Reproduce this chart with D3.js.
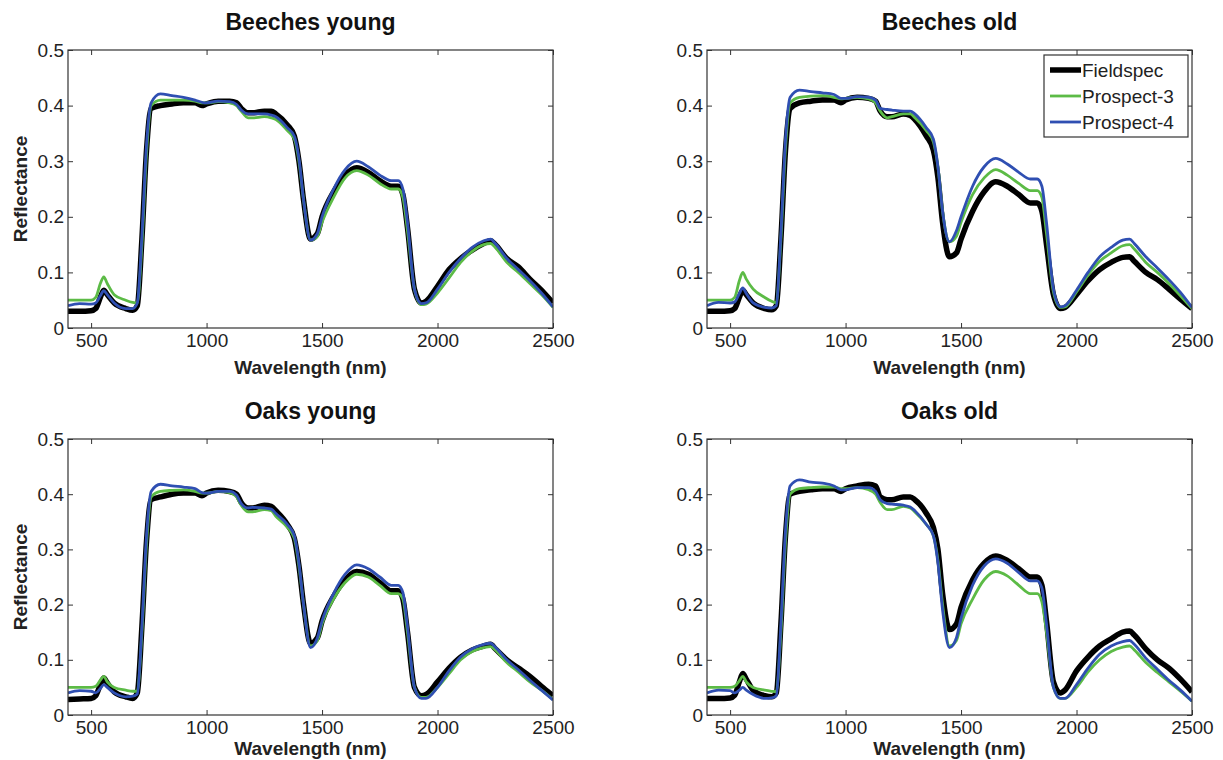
<!DOCTYPE html>
<html>
<head>
<meta charset="utf-8">
<script src="https://cdn.jsdelivr.net/npm/d3@7"></script>
<style>
  body { margin: 0; background: #fff; }
  svg { font-family: "Liberation Sans", Arial, sans-serif; }
  .tick text { fill: #222; font-size: 19px; }
  .tick line { stroke: #333; }
</style>
</head>
<body>
<div id="chart"></div>
<script>
// wavelength grid (nm) shared by every spectrum
const wavelengths = [400,450,500,520,540,555,570,600,
  650,680,700,720,740,760,
  800,850,900,950,980,1000,
  1050,1100,1130,1150,1180,1200,
  1250,1280,1300,1350,1380,1400,
  1420,1450,1480,1500,1550,1600,
  1650,1700,1750,1800,1830,1850,
  1870,1900,1930,1950,2000,2050,
  2100,2150,2200,2230,2250,2300,
  2350,2400,2450,2500];

const seriesNames = ["Fieldspec", "Prospect-3", "Prospect-4"];
const panelTitles = ["Beeches young", "Beeches old", "Oaks young", "Oaks old"];
const xTicks = [500, 1000, 1500, 2000, 2500];
const xTickLabels = ["500", "1000", "1500", "2000", "2500"];
const yTicks = [0, 0.1, 0.2, 0.3, 0.4, 0.5];
const yTickLabels = ["0", "0.1", "0.2", "0.3", "0.4", "0.5"];

// Beeches young
const beechYoungField = [0.030,0.030,0.031,0.035,0.055,0.068,0.060,0.045,
  0.035,0.032,0.040,0.160,0.320,0.395,
  0.400,0.403,0.405,0.405,0.400,0.403,
  0.408,0.408,0.405,0.395,0.387,0.387,
  0.390,0.390,0.385,0.365,0.345,0.300,
  0.230,0.160,0.170,0.200,0.245,0.275,
  0.288,0.280,0.265,0.255,0.255,0.240,
  0.180,0.070,0.045,0.048,0.075,0.105,
  0.125,0.140,0.152,0.157,0.150,0.125,
  0.110,0.088,0.068,0.045];
const beechYoungP3 = [0.050,0.050,0.050,0.055,0.080,0.092,0.080,0.060,
  0.050,0.046,0.045,0.150,0.315,0.400,
  0.410,0.410,0.410,0.408,0.405,0.405,
  0.407,0.405,0.400,0.390,0.378,0.378,
  0.380,0.378,0.375,0.355,0.340,0.300,
  0.230,0.158,0.165,0.190,0.235,0.270,
  0.283,0.275,0.260,0.250,0.250,0.235,
  0.175,0.070,0.042,0.043,0.063,0.090,
  0.118,0.138,0.150,0.152,0.145,0.118,
  0.100,0.080,0.060,0.037];
const beechYoungP4 = [0.040,0.044,0.043,0.045,0.058,0.067,0.060,0.045,
  0.035,0.035,0.045,0.165,0.330,0.405,
  0.421,0.418,0.415,0.410,0.406,0.405,
  0.408,0.407,0.402,0.392,0.385,0.385,
  0.385,0.383,0.380,0.360,0.345,0.305,
  0.230,0.158,0.170,0.200,0.250,0.285,
  0.300,0.290,0.275,0.265,0.265,0.250,
  0.190,0.070,0.044,0.045,0.070,0.100,
  0.125,0.145,0.157,0.160,0.152,0.125,
  0.105,0.085,0.063,0.038];

// Beeches old
const beechOldField = [0.030,0.030,0.031,0.035,0.055,0.068,0.060,0.045,
  0.035,0.033,0.040,0.160,0.320,0.395,
  0.405,0.408,0.410,0.410,0.405,0.410,
  0.415,0.413,0.408,0.390,0.380,0.380,
  0.385,0.382,0.375,0.345,0.320,0.270,
  0.190,0.128,0.135,0.160,0.210,0.245,
  0.263,0.255,0.240,0.225,0.225,0.210,
  0.150,0.060,0.035,0.037,0.060,0.085,
  0.105,0.118,0.127,0.128,0.120,0.100,
  0.087,0.070,0.052,0.035];
const beechOldP3 = [0.050,0.050,0.050,0.055,0.085,0.100,0.088,0.070,
  0.055,0.048,0.045,0.160,0.325,0.405,
  0.415,0.417,0.418,0.415,0.412,0.413,
  0.415,0.412,0.405,0.390,0.378,0.380,
  0.385,0.385,0.378,0.355,0.335,0.290,
  0.210,0.155,0.165,0.190,0.240,0.270,
  0.285,0.275,0.260,0.247,0.247,0.235,
  0.170,0.065,0.037,0.038,0.065,0.095,
  0.120,0.135,0.148,0.150,0.142,0.118,
  0.100,0.080,0.058,0.035];
const beechOldP4 = [0.040,0.046,0.045,0.047,0.062,0.072,0.062,0.045,
  0.037,0.036,0.040,0.170,0.340,0.415,
  0.428,0.425,0.423,0.420,0.413,0.413,
  0.416,0.415,0.410,0.395,0.393,0.392,
  0.390,0.390,0.385,0.360,0.340,0.290,
  0.210,0.155,0.175,0.200,0.255,0.290,
  0.305,0.295,0.280,0.268,0.268,0.255,
  0.190,0.070,0.038,0.040,0.068,0.100,
  0.128,0.145,0.158,0.160,0.152,0.128,
  0.108,0.087,0.064,0.037];

// Oaks young
const oakYoungField = [0.028,0.029,0.030,0.035,0.055,0.067,0.058,0.042,
  0.033,0.030,0.040,0.160,0.315,0.390,
  0.395,0.400,0.402,0.402,0.397,0.402,
  0.407,0.405,0.400,0.385,0.375,0.375,
  0.380,0.378,0.370,0.345,0.320,0.270,
  0.200,0.130,0.140,0.170,0.215,0.245,
  0.260,0.255,0.240,0.225,0.225,0.210,
  0.150,0.050,0.035,0.037,0.060,0.085,
  0.105,0.118,0.125,0.128,0.120,0.100,
  0.085,0.070,0.052,0.035];
const oakYoungP3 = [0.050,0.050,0.050,0.052,0.063,0.070,0.060,0.050,
  0.045,0.043,0.043,0.150,0.310,0.395,
  0.405,0.407,0.408,0.405,0.402,0.402,
  0.405,0.403,0.395,0.380,0.368,0.368,
  0.372,0.370,0.360,0.340,0.320,0.270,
  0.200,0.125,0.135,0.165,0.210,0.240,
  0.255,0.250,0.235,0.220,0.220,0.210,
  0.150,0.050,0.032,0.032,0.050,0.075,
  0.100,0.115,0.122,0.124,0.118,0.095,
  0.078,0.060,0.045,0.028];
const oakYoungP4 = [0.040,0.044,0.043,0.040,0.048,0.055,0.050,0.040,
  0.033,0.034,0.038,0.160,0.325,0.405,
  0.418,0.415,0.413,0.410,0.403,0.402,
  0.405,0.405,0.398,0.383,0.375,0.376,
  0.375,0.373,0.365,0.345,0.325,0.275,
  0.200,0.122,0.140,0.170,0.220,0.255,
  0.272,0.265,0.250,0.235,0.235,0.222,
  0.160,0.050,0.030,0.030,0.050,0.080,
  0.105,0.120,0.128,0.130,0.123,0.100,
  0.082,0.063,0.045,0.027];

// Oaks old
const oakOldField = [0.030,0.030,0.031,0.036,0.060,0.075,0.065,0.045,
  0.035,0.033,0.040,0.165,0.325,0.400,
  0.405,0.408,0.410,0.410,0.405,0.410,
  0.415,0.418,0.415,0.395,0.390,0.390,
  0.395,0.395,0.390,0.365,0.340,0.300,
  0.220,0.155,0.165,0.195,0.245,0.275,
  0.288,0.280,0.265,0.250,0.250,0.235,
  0.170,0.060,0.040,0.045,0.080,0.105,
  0.125,0.138,0.150,0.152,0.145,0.120,
  0.100,0.085,0.065,0.042];
const oakOldP3 = [0.050,0.050,0.050,0.052,0.062,0.070,0.060,0.050,
  0.045,0.043,0.042,0.150,0.315,0.400,
  0.410,0.412,0.413,0.413,0.410,0.410,
  0.412,0.408,0.400,0.385,0.372,0.372,
  0.378,0.375,0.368,0.345,0.325,0.280,
  0.200,0.125,0.135,0.165,0.210,0.245,
  0.260,0.252,0.235,0.220,0.220,0.205,
  0.150,0.050,0.030,0.030,0.050,0.078,
  0.100,0.115,0.123,0.125,0.118,0.095,
  0.077,0.060,0.043,0.025];
const oakOldP4 = [0.040,0.045,0.044,0.040,0.045,0.050,0.045,0.037,
  0.030,0.031,0.035,0.165,0.335,0.415,
  0.426,0.422,0.420,0.415,0.408,0.408,
  0.412,0.412,0.405,0.390,0.383,0.382,
  0.380,0.377,0.370,0.345,0.325,0.275,
  0.190,0.122,0.140,0.175,0.235,0.270,
  0.283,0.275,0.258,0.243,0.243,0.230,
  0.165,0.050,0.030,0.030,0.055,0.085,
  0.110,0.125,0.133,0.135,0.128,0.103,
  0.083,0.063,0.045,0.025];

const panelData = [
  [beechYoungField, beechYoungP3, beechYoungP4],
  [beechOldField, beechOldP3, beechOldP4],
  [oakYoungField, oakYoungP3, oakYoungP4],
  [oakOldField, oakOldP3, oakOldP4]
];

const colors = ["#000000", "#5cbb46", "#2f4fb2"];
const widths = [5.5, 2.8, 2.8];

const width = 1223, height = 760;
const plotW = 485;
const boxes = [
  {left: 68, top: 50, h: 278, ylabel: true, xlabDy: 46},
  {left: 707, top: 50, h: 278, ylabel: false, legend: true, xlabDy: 46},
  {left: 68, top: 439, h: 276, ylabel: true, xlabDy: 40},
  {left: 707, top: 439, h: 276, ylabel: false, xlabDy: 40}
];

const svg = d3.select("#chart").append("svg")
  .attr("width", width).attr("height", height);

boxes.forEach((b, i) => {
  const g = svg.append("g").attr("transform", "translate(" + b.left + "," + b.top + ")");
  const x = d3.scaleLinear().domain([400, 2500]).range([0, plotW]);
  const y = d3.scaleLinear().domain([0, 0.5]).range([b.h, 0]);

  g.append("clipPath").attr("id", "clip" + i)
    .append("rect").attr("width", plotW).attr("height", b.h);

  const line = d3.line()
    .x((d, k) => x(wavelengths[k]))
    .y(d => y(d))
    .curve(d3.curveMonotoneX);

  const lines = g.append("g").attr("clip-path", "url(#clip" + i + ")");
  panelData[i].forEach((s, j) => {
    lines.append("path").datum(s)
      .attr("d", line)
      .attr("fill", "none")
      .attr("stroke", colors[j])
      .attr("stroke-width", widths[j])
      .attr("stroke-linejoin", "round");
  });

  // axes, ticks pointing inward like the original
  g.append("g").attr("transform", "translate(0," + b.h + ")")
    .call(d3.axisBottom(x).tickValues(xTicks).tickFormat((d, k) => xTickLabels[k])
      .tickSizeInner(-5).tickSizeOuter(0).tickPadding(6))
    .call(a => a.select(".domain").remove());
  g.append("g")
    .call(d3.axisTop(x).tickValues(xTicks).tickFormat("").tickSizeInner(-5).tickSizeOuter(0))
    .call(a => a.select(".domain").remove());
  g.append("g")
    .call(d3.axisLeft(y).tickValues(yTicks).tickFormat((d, k) => yTickLabels[k])
      .tickSizeInner(-5).tickSizeOuter(0).tickPadding(4))
    .call(a => a.select(".domain").remove());
  g.append("g").attr("transform", "translate(" + plotW + ",0)")
    .call(d3.axisRight(y).tickValues(yTicks).tickFormat("").tickSizeInner(-5).tickSizeOuter(0))
    .call(a => a.select(".domain").remove());

  g.append("rect").attr("width", plotW).attr("height", b.h)
    .attr("fill", "none").attr("stroke", "#333").attr("stroke-width", 1.2);

  g.append("text").attr("x", plotW / 2).attr("y", -20)
    .attr("text-anchor", "middle").attr("font-size", 23).attr("font-weight", "bold")
    .attr("fill", "#111").text(panelTitles[i]);

  g.append("text").attr("x", plotW / 2).attr("y", b.h + b.xlabDy)
    .attr("text-anchor", "middle").attr("font-size", 19).attr("font-weight", "bold")
    .attr("fill", "#222").text("Wavelength (nm)");

  if (b.ylabel) {
    g.append("text")
      .attr("transform", "translate(-41," + (b.h / 2) + ") rotate(-90)")
      .attr("text-anchor", "middle").attr("font-size", 19).attr("font-weight", "bold")
      .attr("fill", "#222").text("Reflectance");
  }

  if (b.legend) {
    const lg = g.append("g").attr("transform", "translate(337,5)");
    lg.append("rect").attr("width", 144).attr("height", 82)
      .attr("fill", "#fff").attr("stroke", "#333").attr("stroke-width", 1.2);
    seriesNames.forEach((n, j) => {
      const yy = 15 + j * 26;
      lg.append("line").attr("x1", 6).attr("x2", 37).attr("y1", yy).attr("y2", yy)
        .attr("stroke", colors[j]).attr("stroke-width", widths[j]);
      lg.append("text").attr("x", 38).attr("y", yy + 7)
        .attr("font-size", 19).attr("fill", "#222").text(n);
    });
  }
});
</script>
</body>
</html>
